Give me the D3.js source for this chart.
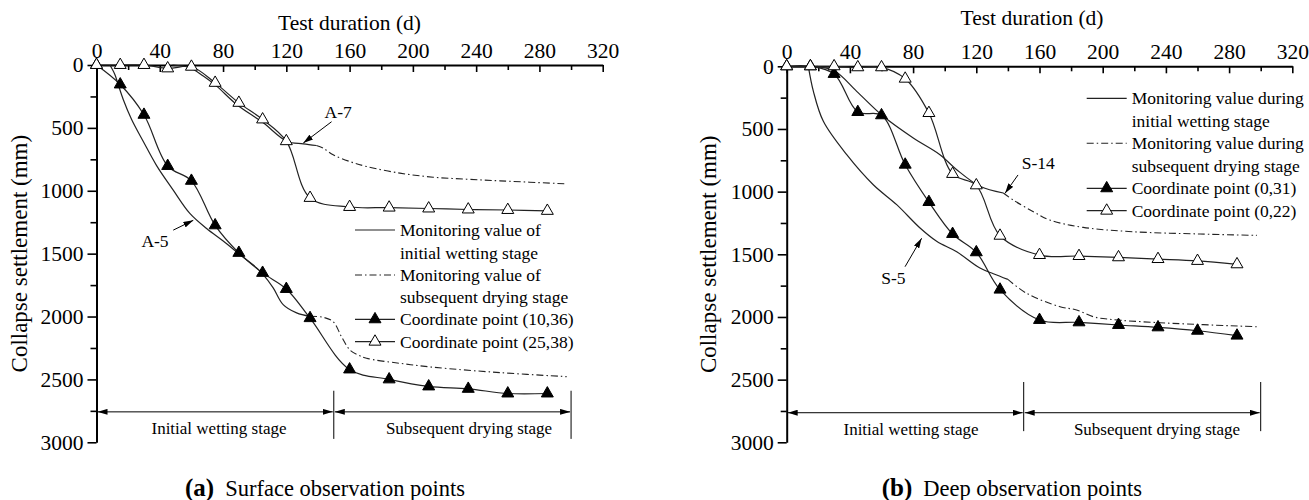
<!DOCTYPE html>
<html>
<head>
<meta charset="utf-8">
<script src="https://cdn.jsdelivr.net/npm/d3@7/dist/d3.min.js"></script>
<style>
  body { margin: 0; background: #fff; }
</style>
</head>
<body>
<svg id="chart" width="1309" height="500"></svg>
<script>

// tick values
var xTicks = [0, 40, 80, 120, 160, 200, 240, 280, 320];
var xMinor = [20, 60, 100, 140, 180, 220, 260, 300];
var yTicks = [0, 500, 1000, 1500, 2000, 2500, 3000];
var yMinor = [250, 750, 1250, 1750, 2250, 2750];

// coordinate point days (shared by all point series)
var pointDays = [0, 15, 30, 45, 60, 75, 90, 105, 120, 135, 160, 185, 210, 235, 260, 285];

// (a) surface points
var a5Points = [0, 155, 396, 803, 921, 1275, 1494, 1653, 1781, 2013, 2421, 2500, 2556, 2575, 2612, 2612];
var a7Points = [0, 0, 0, 27, 14, 142, 301, 433, 606, 1057, 1129, 1134, 1141, 1149, 1153, 1160];

var a5WetDays = [8.5, 11.6, 13.7, 16.9, 22.2, 29.5, 38, 48.5, 59, 69.6, 80.1, 90.6, 101.2, 105.4, 111.7, 118, 126.5, 135];
var a5WetVals = [0, 75, 155, 274, 433, 606, 800, 995, 1180, 1300, 1400, 1507, 1613, 1667, 1772, 1905, 1971, 1998];
var a5DryDays = [135, 143.3, 149.6, 154.9, 160.2, 165.4, 170.7, 191.8, 212.8, 255, 297.2];
var a5DryVals = [1998, 2006, 2041, 2160, 2266, 2306, 2332, 2372, 2403, 2446, 2478];

var a7WetDays = [48, 59, 67.5, 75.9, 88.6, 105.4, 120.2, 130.7, 139];
var a7WetVals = [0, 22, 88, 168, 314, 460, 606, 627, 640];
var a7DryDays = [139, 143.3, 149.6, 160.2, 170.7, 191.8, 212.8, 233.9, 255, 297.2];
var a7DryVals = [640, 661, 714, 768, 807, 860, 892, 908, 921, 945];

// (b) deep points
var s5Points = [0, 0, 61, 365, 391, 785, 1083, 1338, 1484, 1782, 2024, 2043, 2064, 2083, 2110, 2149];
var s14Points = [0, 0, 0, 8, 8, 99, 373, 859, 950, 1352, 1506, 1514, 1524, 1538, 1553, 1580];

var s5WetDays = [13.7, 16.9, 23.2, 38, 54.8, 69.6, 84.4, 94.9, 107.6, 122.3, 130.8, 140];
var s5WetVals = [0, 200, 439, 705, 945, 1104, 1290, 1396, 1480, 1610, 1655, 1700];
var s5DryDays = [140, 151.9, 173, 183.5, 194, 204.6, 236.3, 297.5];
var s5DryVals = [1700, 1812, 1918, 1944, 1998, 2019, 2046, 2078];

var s14WetDays = [19, 30.6, 44.3, 61.1, 80.1, 97, 107.6, 122.3, 137.1];
var s14WetVals = [0, 40, 200, 399, 572, 705, 825, 957, 1011];
var s14DryDays = [137.1, 143.4, 156.1, 166.6, 187.7, 219.4, 261.6, 297.5];
var s14DryVals = [1011, 1067, 1160, 1227, 1285, 1320, 1338, 1349];

// stage boundaries (days)
var stageBounds = [0, 150, 300];

var FONT = "'Liberation Serif'";

var svg = d3.select("#chart");
svg.append("rect").attr("width", 1309).attr("height", 500).attr("fill", "#fff");

var defs = svg.append("defs");
defs.append("marker")
    .attr("id", "arrow")
    .attr("viewBox", "0 0 10 6")
    .attr("refX", 10).attr("refY", 3)
    .attr("markerWidth", 10).attr("markerHeight", 6)
    .attr("markerUnits", "userSpaceOnUse")
    .attr("orient", "auto-start-reverse")
    .append("path").attr("d", "M0,0L10,3L0,6Z").attr("fill", "#000");

var dashDot = "7,3,1.5,3";
var tri = d3.symbol().type(d3.symbolTriangle).size(62);

var panels = [
    {
        left: 96.5, right: 602.7, top: 65, bottom: 442.3,
        titleX: 349.5, titleY: 30,
        yTitleX: 19,
        filled: a5Points, open: a7Points,
        wet: [[a5WetDays, a5WetVals], [a7WetDays, a7WetVals]],
        dry: [[a5DryDays, a5DryVals], [a7DryDays, a7DryVals]],
        legend: {x: 355, rows: [230, 252.7, 275, 296.7, 319.3, 341.7],
            text: ["Monitoring value of", "initial wetting stage", "Monitoring value of",
                   "subsequent drying stage", "Coordinate point (10,36)", "Coordinate point (25,38)"]},
        labels: [
            {t: "A-5", at: [37, 1400], from: [48.5, 1313], to: [61.2, 1235]},
            {t: "A-7", at: [152.8, 375], from: [148.6, 451], to: [130.7, 621]}
        ],
        stageY: 2758, stageTop: 2590, stageBot: 2973,
        stageText: [[219, "Initial wetting stage"], [469, "Subsequent drying stage"]],
        capX: 185, capB: "(a)", capT: "Surface observation points"
    },
    {
        left: 786.7, right: 1292.3, top: 66.3, bottom: 442.3,
        titleX: 1032, titleY: 25,
        yTitleX: 708,
        filled: s5Points, open: s14Points,
        wet: [[s5WetDays, s5WetVals], [s14WetDays, s14WetVals]],
        dry: [[s5DryDays, s5DryVals], [s14DryDays, s14DryVals]],
        legend: {x: 1086.7, rows: [98.3, 120.7, 143.3, 166, 188.3, 210.7],
            text: ["Monitoring value during", "initial wetting stage", "Monitoring value during",
                   "subsequent drying stage", "Coordinate point (0,31)", "Coordinate point (0,22)"]},
        labels: [
            {t: "S-5", at: [67.5, 1690], from: [74.9, 1599], to: [85.4, 1372]},
            {t: "S-14", at: [159.2, 775], from: [146.4, 867], to: [138.2, 1013]}
        ],
        stageY: 2764, stageTop: 2519, stageBot: 2911,
        stageText: [[911, "Initial wetting stage"], [1157, "Subsequent drying stage"]],
        capX: 881.7, capB: "(b)", capT: "Deep observation points"
    }
];

function drawPanel(p) {
    var x = d3.scaleLinear().domain([0, 320]).range([p.left, p.right]);
    var y = d3.scaleLinear().domain([0, 3000]).range([p.top, p.bottom]);
    var g = svg.append("g");

    var line = d3.line()
        .x(function (d) { return x(d[0]); })
        .y(function (d) { return y(d[1]); })
        .curve(d3.curveCatmullRom.alpha(0.5));

    // top axis: minor ticks, then major with labels
    g.append("g").attr("transform", "translate(0," + p.top + ")")
        .call(d3.axisTop(x).tickValues(xMinor).tickSize(-5).tickFormat(""))
        .call(function (a) { a.select(".domain").remove(); });
    g.append("g").attr("transform", "translate(0," + p.top + ")")
        .call(d3.axisTop(x).tickValues(xTicks).tickSizeInner(-7).tickSizeOuter(0).tickPadding(7)
            .tickFormat(d3.format("d")));

    // left axis
    g.append("g").attr("transform", "translate(" + p.left + ",0)")
        .call(d3.axisLeft(y).tickValues(yMinor).tickSize(6).tickFormat(""))
        .call(function (a) { a.select(".domain").remove(); });
    g.append("g").attr("transform", "translate(" + p.left + ",0)")
        .call(d3.axisLeft(y).tickValues(yTicks).tickSizeInner(9).tickSizeOuter(0).tickPadding(4)
            .tickFormat(d3.format("d")));

    g.selectAll(".tick text").attr("font-size", 21.5);
    g.selectAll(".domain").attr("stroke-width", 2);
    g.selectAll(".tick line").attr("stroke-width", 1.6);

    // axis titles
    g.append("text")
        .attr("x", p.titleX).attr("y", p.titleY)
        .attr("text-anchor", "middle").attr("font-size", 21.5)
        .text("Test duration (d)");
    g.append("text")
        .attr("transform", "translate(" + p.yTitleX + "," + ((p.top + p.bottom) / 2) + ") rotate(-90)")
        .attr("text-anchor", "middle").attr("dominant-baseline", "central").attr("font-size", 23)
        .text("Collapse settlement (mm)");

    // monitoring curves
    p.wet.forEach(function (s) {
        g.append("path").datum(d3.zip(s[0], s[1])).attr("d", line)
            .attr("fill", "none").attr("stroke", "#222").attr("stroke-width", 1.2);
    });
    p.dry.forEach(function (s) {
        g.append("path").datum(d3.zip(s[0], s[1])).attr("d", line)
            .attr("fill", "none").attr("stroke", "#222").attr("stroke-width", 1.1)
            .attr("stroke-dasharray", dashDot);
    });

    // coordinate point series
    [[p.filled, "#000"], [p.open, "#fff"]].forEach(function (s) {
        var pts = d3.zip(pointDays, s[0]);
        g.append("path").datum(pts).attr("d", line)
            .attr("fill", "none").attr("stroke", "#222").attr("stroke-width", 1.2);
        g.selectAll(null).data(pts).enter().append("path")
            .attr("d", tri)
            .attr("transform", function (d) { return "translate(" + x(d[0]) + "," + y(d[1]) + ")"; })
            .attr("fill", s[1]).attr("stroke", "#000").attr("stroke-width", 1);
    });

    // curve labels with arrows
    p.labels.forEach(function (l) {
        g.append("line")
            .attr("x1", x(l.from[0])).attr("y1", y(l.from[1]))
            .attr("x2", x(l.to[0])).attr("y2", y(l.to[1]))
            .attr("stroke", "#000").attr("stroke-width", 1)
            .attr("marker-end", "url(#arrow)");
        g.append("text")
            .attr("x", x(l.at[0])).attr("y", y(l.at[1]))
            .attr("text-anchor", "middle").attr("dominant-baseline", "central")
            .attr("font-size", 17.5).text(l.t);
    });

    // legend
    var lg = g.append("g");
    var lx = p.legend.x, r = p.legend.rows;
    p.legend.text.forEach(function (t, i) {
        lg.append("text").attr("x", lx + 45).attr("y", r[i] + 6)
            .attr("font-size", 17.5).text(t);
    });
    lg.append("line").attr("x1", lx).attr("x2", lx + 40).attr("y1", r[0]).attr("y2", r[0])
        .attr("stroke", "#222").attr("stroke-width", 1.2);
    lg.append("line").attr("x1", lx).attr("x2", lx + 40).attr("y1", r[2]).attr("y2", r[2])
        .attr("stroke", "#222").attr("stroke-width", 1.1).attr("stroke-dasharray", dashDot);
    [[r[4], "#000"], [r[5], "#fff"]].forEach(function (m) {
        lg.append("line").attr("x1", lx).attr("x2", lx + 40).attr("y1", m[0]).attr("y2", m[0])
            .attr("stroke", "#222").attr("stroke-width", 1.2);
        lg.append("path").attr("d", tri).attr("transform", "translate(" + (lx + 20) + "," + m[0] + ")")
            .attr("fill", m[1]).attr("stroke", "#000").attr("stroke-width", 1);
    });

    // stage arrows
    var sy = y(p.stageY);
    stageBounds.slice(1).forEach(function (b) {
        g.append("line").attr("x1", x(b)).attr("x2", x(b))
            .attr("y1", y(p.stageTop)).attr("y2", y(p.stageBot))
            .attr("stroke", "#000").attr("stroke-width", 1);
    });
    for (var i = 0; i < stageBounds.length - 1; i++) {
        g.append("line")
            .attr("x1", x(stageBounds[i]) + 1).attr("x2", x(stageBounds[i + 1]) - 1)
            .attr("y1", sy).attr("y2", sy)
            .attr("stroke", "#000").attr("stroke-width", 1)
            .attr("marker-start", "url(#arrow)").attr("marker-end", "url(#arrow)");
    }
    p.stageText.forEach(function (s) {
        g.append("text").attr("x", s[0]).attr("y", sy + 22)
            .attr("text-anchor", "middle").attr("font-size", 17).text(s[1]);
    });

    // caption
    var cap = g.append("text").attr("x", p.capX).attr("y", 496).attr("font-size", 22.5);
    cap.append("tspan").attr("font-weight", "bold").attr("font-size", 25).text(p.capB);
    cap.append("tspan").attr("dx", 11).text(p.capT);
}

panels.forEach(drawPanel);

// serif everywhere (set inline so axis defaults do not win)
svg.selectAll("g").attr("font-family", null);
svg.selectAll("text").style("font-family", FONT).style("fill", "#000");

</script>
</body>
</html>
